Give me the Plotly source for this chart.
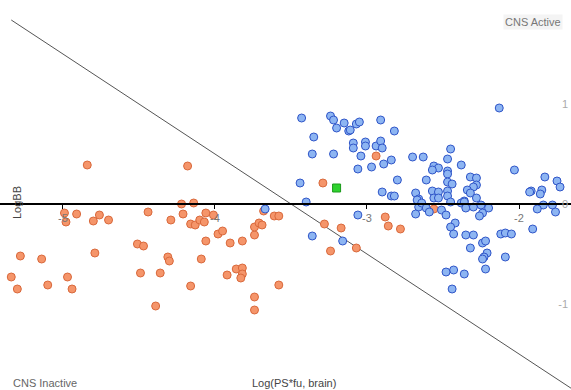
import plotly.graph_objects as go

# CNS active compounds (blue)
active_x = [-3.43, -3.24, -3.22, -3.20, -3.15, -3.12, -3.11, -3.07, -3.05, -2.91, -2.82,
            -3.35, -3.09, -3.09, -3.01, -3.01, -2.94, -2.91, -2.90, -3.36, -3.22, -3.04,
            -2.84, -2.89, -2.97, -3.06, -2.70, -2.63, -2.80, -2.61, -3.44, -2.90, -2.84,
            -2.82, -2.68, -2.66, -3.40, -2.13, -2.45, -2.47, -2.38, -2.56, -2.53, -2.57,
            -2.47, -2.47, -2.47, -2.44, -2.32, -2.28, -2.28, -2.30, -2.34, -2.32, -2.57,
            -2.53, -2.47, -2.47, -2.56, -2.53, -2.28, -2.36, -2.03, -1.83, -1.75, -1.73,
            -1.85, -1.86, -1.92, -1.84, -1.78, -2.38, -2.45, -2.67, -2.66, -2.68, -2.64,
            -2.61, -2.59, -2.51, -2.48, -2.36, -2.35, -2.30, -2.25, -2.20, -2.24, -2.26,
            -2.42, -2.45, -2.43, -2.35, -2.30, -2.32, -2.24, -2.22, -2.21, -2.23, -2.24,
            -2.22, -2.36, -2.43, -2.48, -2.44, -2.12, -2.09, -2.05, -2.09, -1.91, -1.88,
            -1.76, -1.93, -3.06, -3.36, -3.16, -3.67]
active_y = [0.86, 0.88, 0.84, 0.76, 0.81, 0.73, 0.74, 0.80, 0.82, 0.84, 0.73,
            0.67, 0.61, 0.56, 0.62, 0.58, 0.58, 0.63, 0.56, 0.50, 0.50, 0.48,
            0.44, 0.40, 0.37, 0.35, 0.47, 0.47, 0.24, 0.24, 0.21, 0.12, 0.08,
            0.08, 0.11, 0.05, 0.02, 0.96, 0.55, 0.45, 0.39, 0.38, 0.36, 0.34,
            0.33, 0.30, 0.22, 0.20, 0.27, 0.26, 0.19, 0.17, 0.14, 0.11, 0.13,
            0.12, 0.13, 0.08, 0.06, 0.06, 0.06, 0.03, 0.34, 0.27, 0.23, 0.17,
            0.14, 0.10, 0.13, -0.01, -0.01, 0.01, 0.02, 0.04, -0.03, -0.10, 0.01,
            -0.04, -0.08, -0.06, -0.11, 0.02, -0.04, -0.03, -0.01, -0.04, -0.09, -0.12,
            -0.19, -0.23, -0.30, -0.31, -0.31, -0.44, -0.39, -0.37, -0.49, -0.53, -0.55,
            -0.65, -0.70, -0.66, -0.68, -0.85, -0.30, -0.29, -0.30, -0.53, -0.25, -0.05,
            -0.08, 0.12, -0.11, -0.32, -0.37, -0.05]

# CNS inactive compounds (orange)
inactive_x = [-4.84, -4.99, -4.98, -4.91, -4.80, -4.76, -4.70, -4.44, -5.28, -5.14,
              -4.79, -4.51, -4.47, -5.34, -5.30, -5.10, -4.97, -4.94, -4.49, -4.18,
              -4.22, -4.14, -4.21, -4.29, -4.16, -4.13, -4.10, -4.07, -4.06, -4.01,
              -3.98, -3.95, -4.06, -3.90, -3.82, -3.74, -3.74, -3.71, -3.69, -3.68,
              -3.61, -3.58, -4.31, -4.30, -4.09, -4.36, -4.16, -4.39, -3.86, -3.82,
              -3.82, -3.83, -3.92, -3.58, -3.74, -3.74, -2.94, -3.29, -3.28, -3.17,
              -3.24, -3.07, -2.88, -2.86, -2.78, -2.56]
inactive_y = [0.39, -0.09, -0.18, -0.10, -0.17, -0.11, -0.16, -0.08, -0.52, -0.55,
              -0.49, -0.40, -0.42, -0.73, -0.85, -0.81, -0.73, -0.85, -0.69, 0.38,
              0.00, 0.01, -0.10, -0.16, -0.20, -0.21, -0.16, -0.18, -0.09, -0.11,
              -0.30, -0.27, -0.37, -0.39, -0.37, -0.31, -0.23, -0.19, -0.21, -0.07,
              -0.12, -0.12, -0.53, -0.57, -0.55, -0.69, -0.82, -1.02, -0.65, -0.64,
              -0.70, -0.74, -0.71, -0.81, -0.93, -1.06, 0.48, 0.21, -0.20, -0.24,
              -0.47, -0.44, -0.13, -0.22, -0.25, -0.05]

# highlighted compound (green)
highlight_x = [-3.20]
highlight_y = [0.16]

# separating line
line_x = [-5.34, -1.60]
line_y = [1.84, -1.90]

x_ticks = [-5, -4, -3, -2]
y_ticks = [-1, 0, 1]

FONT = "Liberation Sans, Arial, sans-serif"
W, H = 571, 390

fig = go.Figure()
fig.add_trace(go.Scatter(x=line_x, y=line_y, mode="lines",
                         line=dict(color="#555555", width=1), hoverinfo="skip"))
fig.add_trace(go.Scatter(x=inactive_x, y=inactive_y, mode="markers", name="CNS Inactive",
                         marker=dict(size=8, color="#f5956a",
                                     line=dict(color="#d9693c", width=1))))
fig.add_trace(go.Scatter(x=active_x, y=active_y, mode="markers", name="CNS Active",
                         marker=dict(size=8, color="#8db5f2",
                                     line=dict(color="#2f55c8", width=1))))
fig.add_trace(go.Scatter(x=highlight_x, y=highlight_y, mode="markers",
                         marker=dict(size=8, symbol="square", color="#2fd22f",
                                     line=dict(color="#1a9a1a", width=1))))

yr = [-1.86, 2.04]


def px(x, y):
    return dict(x=x / W, y=1 - y / H, xref="paper", yref="paper")


fig.update_layout(
    width=W, height=H,
    margin=dict(l=0, r=0, t=0, b=0, pad=0, autoexpand=False),
    paper_bgcolor="white", plot_bgcolor="white",
    showlegend=False,
    font=dict(family=FONT, size=11, color="#555555"),
    xaxis=dict(range=[-5.414, -1.658], showgrid=False, zeroline=False, automargin=False,
               tickvals=x_ticks, ticktext=[str(v) for v in x_ticks],
               showline=True, linecolor="black", linewidth=1.5,
               ticks="outside", ticklen=4, tickcolor="black",
               anchor="free", position=(0 - yr[0]) / (yr[1] - yr[0]),
               tickfont=dict(size=11, color="#777777")),
    yaxis=dict(range=yr, showgrid=False, zeroline=False, showline=False, automargin=False,
               tickvals=y_ticks, ticktext=[str(v) for v in y_ticks],
               side="right", ticklabelposition="inside", ticks="",
               tickfont=dict(size=11, color="#aaaaaa")),
    annotations=[
        dict(text="CNS Active", showarrow=False, xanchor="right", yanchor="middle",
             bgcolor="#f4f4f4", font=dict(size=11, color="#777777"), **px(563, 22)),
        dict(text="CNS Inactive", showarrow=False, xanchor="left", yanchor="middle",
             font=dict(size=11, color="#666666"), **px(11, 383)),
        dict(text="Log(PS*fu, brain)", showarrow=False, xanchor="center", yanchor="middle",
             font=dict(size=11, color="#444444"), **px(294, 383)),
        dict(text="LogBB", showarrow=False, textangle=-90, xanchor="center",
             yanchor="middle", font=dict(size=11, color="#444444"), **px(17, 203)),
    ],
)

fig.write_html("out.html", config={"displayModeBar": False})

# remove the default page margin so the figure sits at the window's top-left corner
with open("out.html", encoding="utf-8") as f:
    html = f.read()
html = html.replace("<body>", '<body style="margin:0;padding:0;overflow:hidden">', 1)
with open("out.html", "w", encoding="utf-8") as f:
    f.write(html)
